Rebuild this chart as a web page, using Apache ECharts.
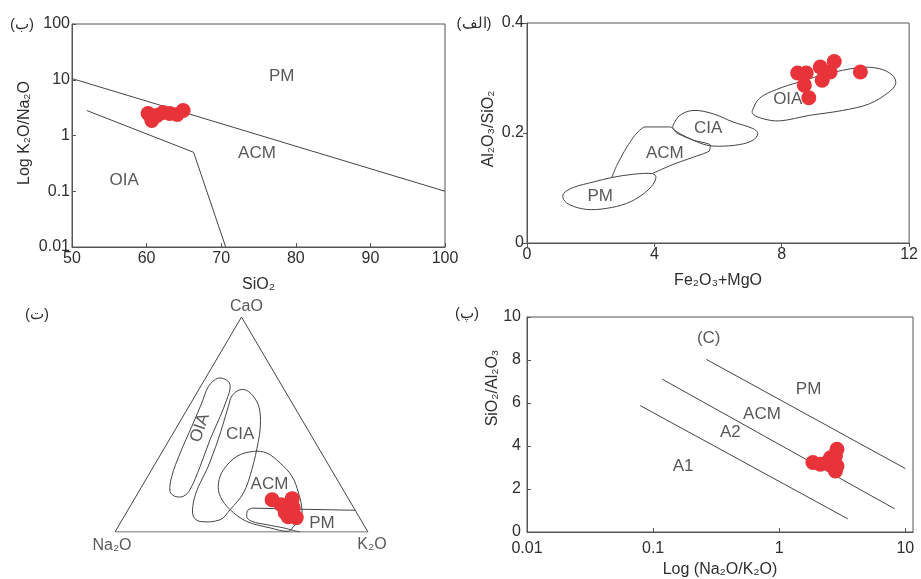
<!DOCTYPE html>
<html><head><meta charset="utf-8">
<script src="https://cdn.jsdelivr.net/npm/echarts@6/dist/echarts.min.js"></script>
<style>html,body{margin:0;padding:0;background:#fff}#c{width:921px;height:579px}</style>
</head><body><div id="c"></div>
<script>
// ---------- Panel (ب): SiO2 vs K2O/Na2O (log) ----------
const p1SiO2 = [60.2, 60.7, 61.4, 62.2, 63.1, 64.1, 64.9];
const p1Ratio = [2.48, 1.86, 2.29, 2.59, 2.48, 2.38, 2.81];
const p1BoundaryUpper = [[50, 10.5], [100, 0.1]];
const p1BoundaryLower = [[52, 2.8], [66.3, 0.5], [70.6, 0.01]];
const p1FieldNames = ['PM', 'ACM', 'OIA'];
const p1FieldPos = [[78.1, 11.5], [74.8, 0.475], [57, 0.156]];

// ---------- Panel (الف): Fe2O3+MgO vs Al2O3/SiO2 ----------
const p2FeMg = [8.50, 8.77, 8.71, 8.85, 9.21, 9.27, 9.52, 9.65, 10.47];
const p2AlSi = [0.309, 0.309, 0.287, 0.264, 0.320, 0.296, 0.311, 0.330, 0.311];
const p2FieldOIA = [[7.08,0.241],[7.30,0.263],[7.83,0.279],[8.56,0.293],[9.39,0.307],[10.44,0.319],[11.06,0.317],[11.48,0.305],[11.58,0.290],[11.38,0.275],[10.75,0.253],[9.91,0.241],[8.87,0.232],[7.93,0.222],[7.41,0.226],[7.10,0.234]];
const p2FieldCIA = [[4.59,0.214],[4.80,0.232],[5.22,0.241],[5.84,0.235],[6.47,0.220],[7.10,0.208],[7.25,0.199],[7.10,0.187],[6.68,0.179],[6.05,0.176],[5.64,0.178],[5.22,0.187],[4.80,0.199],[4.59,0.208]];
const p2FieldACM = [[2.66,0.119],[2.82,0.141],[3.08,0.169],[3.39,0.196],[3.70,0.211],[4.51,0.211],[4.70,0.200],[5.22,0.187],[5.76,0.178],[5.72,0.167],[5.22,0.156],[4.59,0.143],[3.96,0.127]];
const p2FieldPM = [[1.15,0.090],[1.46,0.101],[2.09,0.111],[2.66,0.119],[3.34,0.125],[3.95,0.126],[4.05,0.119],[3.91,0.103],[3.60,0.087],[3.13,0.072],[2.50,0.063],[1.88,0.061],[1.36,0.069],[1.15,0.079]];
const p2FieldNames = ['PM', 'ACM', 'CIA', 'OIA'];
const p2FieldPos = [[2.30, 0.085], [4.33, 0.163], [5.69, 0.209], [8.19, 0.261]];

// ---------- Panel (ت): ternary CaO – Na2O – K2O, pairs are [CaO %, K2O %] (Na2O = rest) ----------
const p3Samples = [[15.0,54.6],[12.7,59.3],[15.5,62.3],[11.3,64.8],[9.0,62.8],[6.7,68.3],[7.1,64.9]];
const p3Vertices = [[0,0],[0,100],[100,0]]; // Na2O, K2O, CaO corners
const p3VertexNames = ['Na₂O', 'K₂O', 'CaO'];
const p3FieldOIA = [[71.6,5.1],[70.0,9.8],[67.0,12.0],[61.5,13.4],[53.8,14.7],[42.9,16.1],[30.5,18.4],[19.7,19.8],[16.6,18.7],[16.6,15.4],[18.9,12.3],[25.9,9.5],[36.7,7.4],[49.1,5.8],[60.0,4.3],[67.7,3.1]];
const p3FieldCIA = [[66.2,16.4],[65.4,20.0],[60.7,25.7],[55.3,29.7],[48.4,33.2],[42.1,35.6],[29.0,39.6],[18.1,41.7],[10.4,40.3],[5.7,38.7],[4.9,31.2],[7.3,27.3],[13.5,24.2],[21.2,22.4],[29.0,21.8],[36.7,20.5],[42.9,19.3],[50.7,17.5],[58.4,15.6],[63.4,14.6]];
const p3FieldACM = [[37.5,36.0],[36.7,41.7],[32.1,49.2],[25.9,57.0],[18.1,63.5],[10.4,68.7],[5.7,70.4],[2.6,69.3],[0.3,68.4],[1.9,60.4],[4.9,49.6],[10.4,40.3],[16.6,33.3],[22.8,29.5],[29.0,28.4],[35.2,30.6]];
const p3FieldPMTop = [[10.1,89.9],[10.6,67.9],[11.1,48.7]];
const p3FieldPMEnd = [[11.1,48.7],[9.7,47.4],[7.3,48.4],[5.0,51.5],[3.4,58.3],[1.9,65.7],[0.7,70.2],[0,73.2]];
const p3FieldNames = ['OIA', 'CIA', 'ACM', 'PM'];
const p3FieldPos = [[48.4,9.4],[45.3,26.8],[22.3,49.9],[4.2,79.7]];

// ---------- Panel (پ): Na2O/K2O (log) vs SiO2/Al2O3 ----------
const p4NaK = [1.85, 2.12, 2.39, 2.62, 2.87, 2.79, 2.87, 2.79, 2.55];
const p4SiAl = [3.23, 3.15, 3.23, 3.07, 3.85, 3.54, 3.07, 2.84, 3.45];
const p4LineA1A2 = [[0.079, 5.88], [3.50, 0.61]];
const p4LineA2ACM = [[0.118, 7.11], [8.22, 1.08]];
const p4LineACMPM = [[0.264, 8.03], [10, 2.95]];
const p4FieldNames = ['(C)', 'PM', 'ACM', 'A2', 'A1'];
const p4FieldPos = [[0.276, 9.0], [1.71, 6.65], [0.73, 5.46], [0.41, 4.62], [0.173, 3.07]];

// ---------- helpers ----------
const FONT = 'Liberation Sans, Arial, sans-serif';
const INK = '#2e2e2e';
const LINE = '#444';
const RED = '#e8333a';
const tern = p => [(p[1] + p[0] / 2) / 100, p[0] / 100];
const zip = (a, b) => a.map((v, i) => [v, b[i]]);

function polyline(data, i, smooth) {
  return { type: 'line', xAxisIndex: i, yAxisIndex: i, data: data, symbol: 'none', smooth: smooth || false,
    silent: true, lineStyle: { color: LINE, width: 1 }, z: 2 };
}
function closedField(pts, i) {
  return { type: 'custom', xAxisIndex: i, yAxisIndex: i, data: [pts[0]], silent: true, clip: false, z: 2,
    renderItem: (params, api) => ({ type: 'polygon',
      shape: { points: pts.map(p => api.coord(p)), smooth: 0.35 },
      style: { fill: 'none', stroke: LINE, lineWidth: 1 } }) };
}
function samples(data, i) {
  return { type: 'scatter', xAxisIndex: i, yAxisIndex: i, data: data, symbolSize: 15,
    itemStyle: { color: RED, opacity: 1 }, z: 5, silent: true };
}
function fieldLabels(names, pos, i, extra) {
  return { type: 'scatter', xAxisIndex: i, yAxisIndex: i, symbolSize: 0, silent: true, z: 6,
    data: names.map((n, k) => ({ name: n, value: pos[k], label: (extra && extra[k]) || {} })),
    label: { show: true, position: 'inside', formatter: '{b}', color: INK, fontSize: 17, fontFamily: FONT } };
}
const labelStyle = { color: INK, fontSize: 16, fontFamily: FONT };
const nameStyle = { color: INK, fontSize: 16, fontFamily: FONT };
function valAxis(gi, min, max, interval, extra) {
  return Object.assign({ type: 'value', gridIndex: gi, min: min, max: max, interval: interval,
    axisLine: { show: true, onZero: false, lineStyle: { color: '#555', width: 1 } },
    axisTick: { show: true, length: 4, lineStyle: { color: '#555' } },
    splitLine: { show: false },
    axisLabel: Object.assign({ margin: 4 }, labelStyle),
    nameTextStyle: nameStyle }, extra || {});
}
const fmt = v => String(+(+v).toPrecision(3));

const p3Tri = [p3Vertices[0], p3Vertices[1], p3Vertices[2], p3Vertices[0]].map(tern);

const option = {
  animation: false,
  backgroundColor: '#fff',
  grid: [
    { left: 72, top: 24, width: 373, height: 223, show: true, borderColor: '#555', borderWidth: 1 },
    { left: 527, top: 23, width: 383, height: 220, show: true, borderColor: '#555', borderWidth: 1 },
    { left: 115, top: 317, width: 253, height: 215 },
    { left: 527, top: 317, width: 386, height: 215, show: true, borderColor: '#555', borderWidth: 1 }
  ],
  xAxis: [
    valAxis(0, 50, 100, 10, { name: 'SiO₂', nameLocation: 'middle', nameGap: 30,
      axisTick: { inside: true, length: 4, lineStyle: { color: '#555' } } }),
    valAxis(1, 0, 12, 4, { name: 'Fe₂O₃+MgO', nameLocation: 'middle', nameGap: 30 }),
    { type: 'value', gridIndex: 2, min: 0, max: 1, show: false },
    { type: 'log', logBase: 10, gridIndex: 3, min: 0.01, max: 11.5,
      name: 'Log (Na₂O/K₂O)', nameLocation: 'middle', nameGap: 30,
      nameTextStyle: nameStyle,
      axisLine: { show: true, onZero: false, lineStyle: { color: '#555' } },
      axisTick: { show: true, inside: true, length: 4, lineStyle: { color: '#555' } },
      splitLine: { show: false }, minorTick: { show: false },
      axisLabel: Object.assign({ margin: 9, showMaxLabel: false, formatter: fmt }, labelStyle) }
  ],
  yAxis: [
    { type: 'log', logBase: 10, gridIndex: 0, min: 0.01, max: 100,
      axisLine: { show: true, onZero: false, lineStyle: { color: '#555' } },
      axisTick: { show: true, inside: true, length: 4, lineStyle: { color: '#555' } },
      splitLine: { show: false },
      axisLabel: Object.assign({ margin: 2, formatter: fmt }, labelStyle) },
    valAxis(1, 0, 0.4, 0.2, { axisLabel: Object.assign({ margin: 3, formatter: fmt }, labelStyle) }),
    { type: 'value', gridIndex: 2, min: 0, max: 1, show: false },
    valAxis(3, 0, 10, 2, { axisLabel: Object.assign({ margin: 6 }, labelStyle),
      axisTick: { inside: true, length: 4, lineStyle: { color: '#555' } } })
  ],
  graphic: [
    { type: 'text', x: 25, y: 133, rotation: Math.PI / 2, style: { text: 'Log K₂O/Na₂O', fill: INK, font: '16px ' + FONT, align: 'center', verticalAlign: 'middle' } },
    { type: 'text', x: 489, y: 129, rotation: Math.PI / 2, style: { text: 'Al₂O₃/SiO₂', fill: INK, font: '16px ' + FONT, align: 'center', verticalAlign: 'middle' } },
    { type: 'text', x: 493, y: 388, rotation: Math.PI / 2, style: { text: 'SiO₂/Al₂O₃', fill: INK, font: '16px ' + FONT, align: 'center', verticalAlign: 'middle' } },
    { type: 'text', x: 22, y: 25, style: { text: '(ب)', fill: INK, font: '15px ' + FONT, align: 'center', verticalAlign: 'middle' } },
    { type: 'text', x: 474, y: 24, style: { text: '(الف)', fill: INK, font: '15px ' + FONT, align: 'center', verticalAlign: 'middle' } },
    { type: 'text', x: 37, y: 315, style: { text: '(ت)', fill: INK, font: '15px ' + FONT, align: 'center', verticalAlign: 'middle' } },
    { type: 'text', x: 467, y: 314, style: { text: '(پ)', fill: INK, font: '15px ' + FONT, align: 'center', verticalAlign: 'middle' } }
  ],
  series: [
    // panel 1
    polyline(p1BoundaryUpper, 0), polyline(p1BoundaryLower, 0),
    fieldLabels(p1FieldNames, p1FieldPos, 0),
    samples(zip(p1SiO2, p1Ratio), 0),
    // panel 2
    closedField(p2FieldOIA, 1), closedField(p2FieldCIA, 1), closedField(p2FieldPM, 1),
    polyline(p2FieldACM, 1, 0.2),
    fieldLabels(p2FieldNames, p2FieldPos, 1),
    samples(zip(p2FeMg, p2AlSi), 1),
    // panel 3 (ternary)
    polyline(p3Tri, 2),
    closedField(p3FieldOIA.map(tern), 2), closedField(p3FieldCIA.map(tern), 2), closedField(p3FieldACM.map(tern), 2),
    polyline(p3FieldPMTop.map(tern), 2), polyline(p3FieldPMEnd.map(tern), 2, 0.4),
    fieldLabels(p3FieldNames, p3FieldPos.map(tern), 2, [{ rotate: 71 }, null, null, null]),
    { type: 'scatter', xAxisIndex: 2, yAxisIndex: 2, symbolSize: 0, silent: true,
      data: p3VertexNames.map((n, k) => ({ name: n, value: tern(p3Vertices[k]),
        label: { offset: [[-3, 14], [4, 13], [5, -10]][k] } })),
      label: { show: true, position: 'inside', formatter: '{b}', color: INK, fontSize: 16, fontFamily: FONT } },
    samples(p3Samples.map(tern), 2),
    // panel 4
    polyline(p4LineA1A2, 3), polyline(p4LineA2ACM, 3), polyline(p4LineACMPM, 3),
    fieldLabels(p4FieldNames, p4FieldPos, 3),
    samples(zip(p4NaK, p4SiAl), 3)
  ]
};
const chart = echarts.init(document.getElementById('c'), null, { renderer: 'canvas' });
chart.setOption(option);
</script></body></html>
